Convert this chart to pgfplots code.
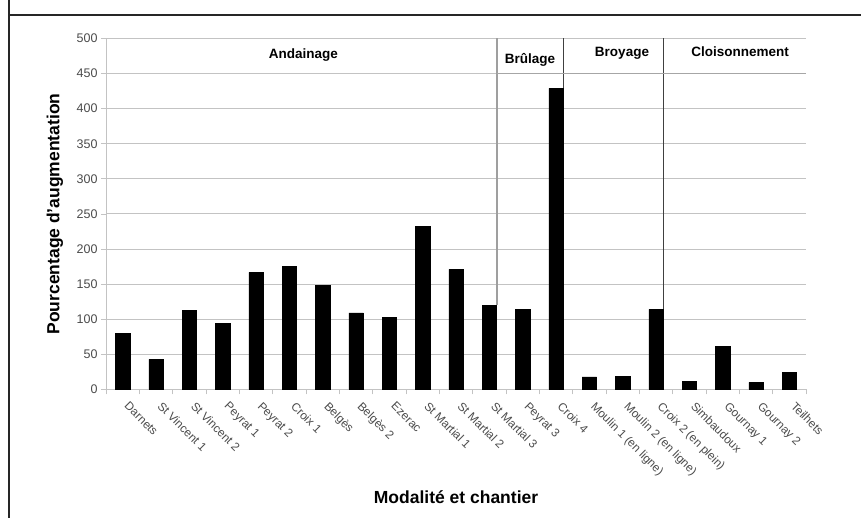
\documentclass[border=0pt]{standalone}
\usepackage{pgfplots}
\pgfplotsset{compat=1.18}
\usepackage{fontspec}
\setmainfont{Liberation Sans}
\definecolor{gridgray}{RGB}{195,195,195}
\definecolor{ticktext}{RGB}{75,75,75}
\pgfplotstableread{
x y
0 80
1 43
2 113
3 94
4 167
5 175
6 148
7 109
8 103
9 232
10 171
11 120
12 114
13 429
14 18
15 19
16 114
17 12
18 61
19 10
20 24
}\datatable
\begin{document}
\begin{tikzpicture}
\path[use as bounding box] (0pt,0pt) rectangle (861pt,518pt);
\begin{axis}[
  at={(106pt,128.5pt)}, anchor=south west,
  scale only axis, width=700pt, height=351pt,
  xmin=-0.5, xmax=20.5, ymin=0, ymax=500,
  axis lines=left, axis line style={-, gridgray, line width=1pt},
  ytick={0,50,...,500},
  ymajorgrids, grid style={gridgray, line width=1pt},
  xtick={0,...,20},
  xticklabels={Darnets, St Vincent 1, St Vincent 2, Peyrat 1, Peyrat 2, Croix 1, Belgès, Belgès 2, Ezerac, St Martial 1, St Martial 2, St Martial 3, Peyrat 3, Croix 4, Moulin 1 (en ligne), Moulin 2 (en ligne), Croix 2 (en plein), Simbaudoux, Gournay 1, Gournay 2, Teilhets},
  major x tick style={draw=none},
  minor xtick={-0.5,0.5,...,20.5},
  minor x tick style={gridgray, line width=0.8pt},
  minor tick length=5pt,
  major tick length=5pt,
  y tick style={gridgray, line width=0.8pt},
  tick align=outside,
  x tick label style={xshift=7pt, yshift=-5pt, rotate=-45, anchor=north west, font=\fontsize{11.8}{13}\selectfont, text=ticktext, inner sep=1pt},
  y tick label style={font=\fontsize{12.5}{13}\selectfont, text=ticktext},
  /pgf/number format/assume math mode=true,
  xlabel={Modalité et chantier},
  ylabel={Pourcentage d'augmentation},
  xlabel style={at={(axis description cs:0.5,-0.306)}, anchor=center, font=\fontsize{17.5}{19}\selectfont\bfseries},
  ylabel style={at={(axis description cs:-0.0729,0.5)}, anchor=center, font=\fontsize{17.5}{19}\selectfont\bfseries},
  clip=false,
]
\addplot[ybar, bar width=14.5pt, fill=black, draw=black] table[x=x, y=y] {\datatable};
\addplot[gray!75, line width=1.6pt, forget plot] coordinates {(11.225,120) (11.225,500)};
\addplot[black!75, line width=1pt, forget plot] coordinates {(13.225,429) (13.225,500)};
\addplot[black!75, line width=1pt, forget plot] coordinates {(16.225,114) (16.225,500)};
\addplot[gray!70, line width=1pt, forget plot] coordinates {(11.225,450) (20.5,450)};
\node[font=\fontsize{13.5}{15}\selectfont\bfseries] at (axis cs:5.42,476) {Andainage};
\node[font=\fontsize{13.5}{15}\selectfont\bfseries] at (axis cs:12.22,469) {Brûlage};
\node[font=\fontsize{13.5}{15}\selectfont\bfseries] at (axis cs:14.98,479) {Broyage};
\node[font=\fontsize{13.5}{15}\selectfont\bfseries] at (axis cs:18.52,481) {Cloisonnement};
\end{axis}
\draw[line width=1.3pt, black!85] (9pt,0pt) -- (9pt,518pt);
\draw[line width=1.3pt, black!85] (9pt,503pt) -- (861pt,503pt);
\end{tikzpicture}
\end{document}
